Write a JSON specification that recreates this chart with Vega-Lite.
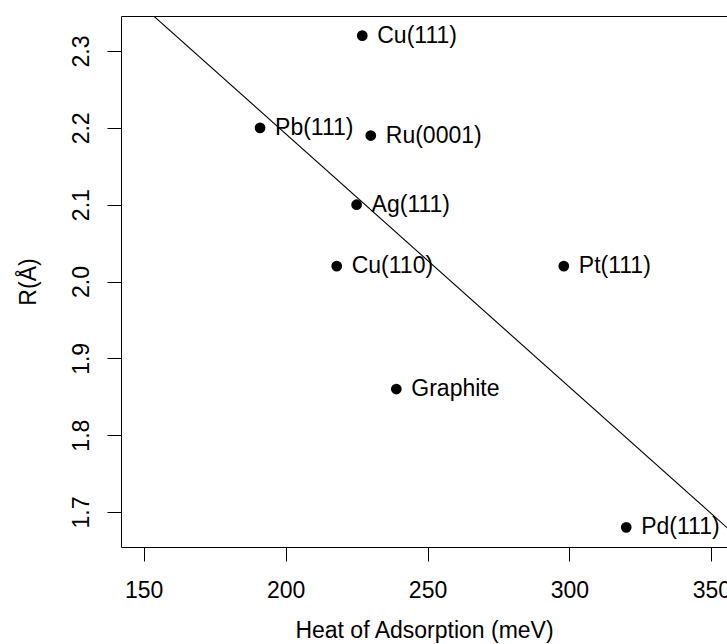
{
  "$schema": "https://vega.github.io/schema/vega-lite/v6.json",
  "width": 606,
  "height": 531,
  "autosize": {"type": "none"},
  "padding": {"left": 121, "top": 16, "right": 0, "bottom": 97},
  "background": "white",
  "config": {
    "view": {"stroke": null},
    "font": "Liberation Sans",
    "axis": {
      "domainColor": "black",
      "domainWidth": 1,
      "tickColor": "black",
      "tickWidth": 1,
      "tickSize": 14,
      "labelColor": "black",
      "labelFontSize": 23,
      "labelFont": "Liberation Sans",
      "titleColor": "black",
      "titleFontSize": 23,
      "titleFont": "Liberation Sans",
      "titleFontWeight": "normal",
      "grid": false
    }
  },
  "datasets": {
    "pts": [
      {"heat": 227, "R": 2.32, "label": "Cu(111)"},
      {"heat": 191, "R": 2.20, "label": "Pb(111)"},
      {"heat": 230, "R": 2.19, "label": "Ru(0001)"},
      {"heat": 225, "R": 2.10, "label": "Ag(111)"},
      {"heat": 218, "R": 2.02, "label": "Cu(110)"},
      {"heat": 298, "R": 2.02, "label": "Pt(111)"},
      {"heat": 239, "R": 1.86, "label": "Graphite"},
      {"heat": 320, "R": 1.68, "label": "Pd(111)"}
    ],
    "fit": [
      {"heat": 140, "R": 2.3901},
      {"heat": 360, "R": 1.6648}
    ]
  },
  "resolve": {"axis": {"x": "independent", "y": "independent"}},
  "layer": [
    {
      "data": {"name": "fit"},
      "mark": {"type": "line", "color": "black", "strokeWidth": 1.1, "clip": true},
      "encoding": {
        "x": {"field": "heat", "type": "quantitative", "scale": {"domain": [142, 355.5], "nice": false, "zero": false},
              "axis": {"orient": "top", "labels": false, "ticks": false, "domain": true, "title": null}},
        "y": {"field": "R", "type": "quantitative", "scale": {"domain": [1.6544, 2.3456], "nice": false, "zero": false}, "axis": null}
      }
    },
    {
      "data": {"name": "pts"},
      "mark": {"type": "circle", "color": "black", "opacity": 1, "size": 115},
      "encoding": {
        "x": {"field": "heat", "type": "quantitative", "scale": {"domain": [142, 355.5], "nice": false, "zero": false},
              "axis": {"orient": "bottom", "values": [150, 200, 250, 300, 350], "title": "Heat of Adsorption (meV)",
                       "labelBaseline": "alphabetic", "labelPadding": 36, "labelFlush": false, "labelOverlap": false,
                       "titleY": 90, "titleBaseline": "alphabetic"}},
        "y": {"field": "R", "type": "quantitative", "scale": {"domain": [1.6544, 2.3456], "nice": false, "zero": false},
              "axis": {"orient": "left", "values": [1.7, 1.8, 1.9, 2.0, 2.1, 2.2, 2.3], "format": ".1f", "title": "R(Å)",
                       "labelAngle": 270, "labelAlign": "center", "labelBaseline": "alphabetic", "labelPadding": 19,
                       "labelFlush": false, "labelOverlap": false,
                       "titleX": -86, "titleBaseline": "alphabetic", "titleAngle": 270}}
      }
    },
    {
      "data": {"name": "pts"},
      "mark": {"type": "text", "align": "left", "baseline": "middle", "dx": 15, "fontSize": 23, "color": "black", "font": "Liberation Sans"},
      "encoding": {
        "x": {"field": "heat", "type": "quantitative", "scale": {"domain": [142, 355.5], "nice": false, "zero": false}, "axis": null},
        "y": {"field": "R", "type": "quantitative", "scale": {"domain": [1.6544, 2.3456], "nice": false, "zero": false}, "axis": null},
        "text": {"field": "label", "type": "nominal"}
      }
    }
  ]
}
